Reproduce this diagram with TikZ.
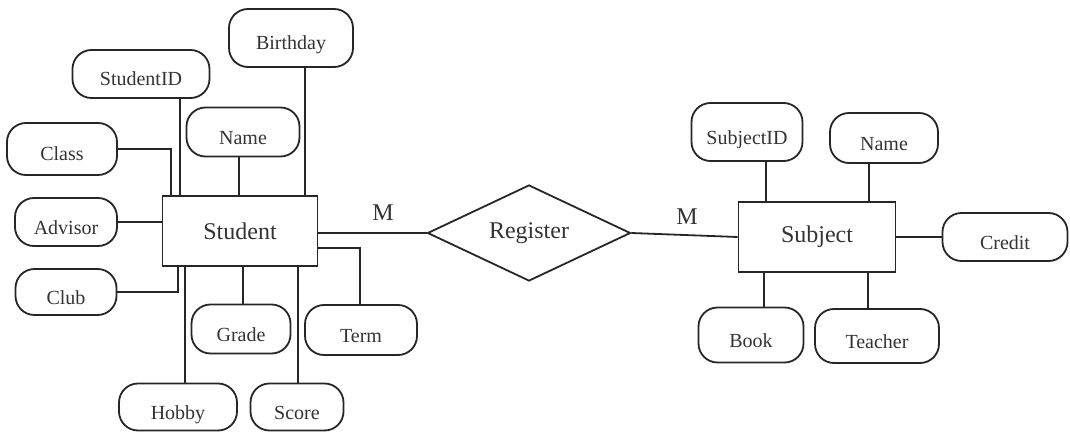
\documentclass[tikz,border=0pt]{standalone}
\usepackage{fontspec}
\setmainfont{Liberation Serif}
\usetikzlibrary{shapes.geometric}
\begin{document}
\begin{tikzpicture}[x=0.5pt,y=-0.5pt,
  link/.style={line width=0.9pt,draw=black!85},
  attr/.style={draw=black!85,line width=0.9pt,rounded corners=9.5pt,inner sep=0pt,
    font=\fontsize{10}{12}\selectfont,text=black!80,text height=12.5pt,text depth=0.5pt},
  entity/.style={draw=black!85,line width=0.9pt,inner sep=0pt,
    font=\fontsize{12}{14}\selectfont,text=black!80},
  rel/.style={draw=black!85,line width=0.9pt,shape=diamond,aspect=2,inner sep=0pt,
    font=\fontsize{12}{14}\selectfont,text=black!80},
  card/.style={font=\fontsize{12}{14}\selectfont,text=black!80}]
\useasboundingbox (0,0) rectangle (1070,433);

% entities and relationship
\node[entity,minimum width=77.5pt,minimum height=35pt] (student) at (240,231) {Student};
\node[entity,minimum width=78.5pt,minimum height=35pt] (subject) at (817,237) {Subject};
\node[rel,minimum width=101.5pt,minimum height=48pt] (register) at (529,233) {Register};

% Student attributes
\node[attr,minimum width=62pt,minimum height=29pt] (birthday) at (291,38) {Birthday};
\node[attr,minimum width=68.5pt,minimum height=24pt] (studentid) at (141,74) {StudentID};
\node[attr,minimum width=56.5pt,minimum height=24.5pt] (sname) at (243,132) {Name};
\node[attr,minimum width=55pt,minimum height=26pt] (class) at (62,149) {Class};
\node[attr,minimum width=51pt,minimum height=24pt] (advisor) at (66,222) {Advisor};
\node[attr,minimum width=50.5pt,minimum height=23pt] (club) at (66,292) {Club};
\node[attr,minimum width=49.5pt,minimum height=24.5pt] (grade) at (241,329) {Grade};
\node[attr,minimum width=56pt,minimum height=25pt] (term) at (361,330) {Term};
\node[attr,minimum width=59pt,minimum height=23.5pt] (hobby) at (178,407) {Hobby};
\node[attr,minimum width=46.5pt,minimum height=23.5pt] (score) at (297,407) {Score};

% Subject attributes
\node[attr,minimum width=55.5pt,minimum height=29pt] (subjectid) at (747,132) {SubjectID};
\node[attr,minimum width=54pt,minimum height=25pt] (subname) at (884,138) {Name};
\node[attr,minimum width=62.5pt,minimum height=24pt] (credit) at (1005,237) {Credit};
\node[attr,minimum width=52.5pt,minimum height=27.5pt] (book) at (751,335) {Book};
\node[attr,minimum width=62pt,minimum height=27pt] (teacher) at (877,336) {Teacher};

% cardinalities
\node[card] (m1) at (383,213) {M};
\node[card] (m2) at (687,217) {M};

% x positions of the attribute links
\coordinate (xclass) at (171,0);
\coordinate (xsid) at (180,0);
\coordinate (xname) at (239,0);
\coordinate (xbirth) at (305,0);
\coordinate (xclub) at (178,0);
\coordinate (xhobby) at (185,0);
\coordinate (xgrade) at (243,0);
\coordinate (xscore) at (298,0);
\coordinate (xterm) at (360,0);
\coordinate (yterm) at (0,248);
\coordinate (xsubid) at (766,0);
\coordinate (xsubname) at (869,0);
\coordinate (xbook) at (764,0);
\coordinate (xteacher) at (868,0);

% relationship links
\draw[link] (student.east |- register.west) -- (register.west);
\draw[link] (register.east) -- (subject.west);

% Student links
\draw[link] (class.east) -| (student.north -| xclass);
\draw[link] (studentid.south -| xsid) -- (student.north -| xsid);
\draw[link] (sname.south -| xname) -- (student.north -| xname);
\draw[link] (birthday.south -| xbirth) -- (student.north -| xbirth);
\draw[link] (advisor.east) -- (advisor.east -| student.west);
\draw[link] (club.east) -| (student.south -| xclub);
\draw[link] (student.south -| xhobby) -- (hobby.north -| xhobby);
\draw[link] (student.south -| xgrade) -- (grade.north -| xgrade);
\draw[link] (student.south -| xscore) -- (score.north -| xscore);
\draw[link] (student.east |- yterm) -| (term.north -| xterm);

% Subject links
\draw[link] (subjectid.south -| xsubid) -- (subject.north -| xsubid);
\draw[link] (subname.south -| xsubname) -- (subject.north -| xsubname);
\draw[link] (subject.east) -- (credit.west);
\draw[link] (subject.south -| xbook) -- (book.north -| xbook);
\draw[link] (subject.south -| xteacher) -- (teacher.north -| xteacher);
\end{tikzpicture}
\end{document}
